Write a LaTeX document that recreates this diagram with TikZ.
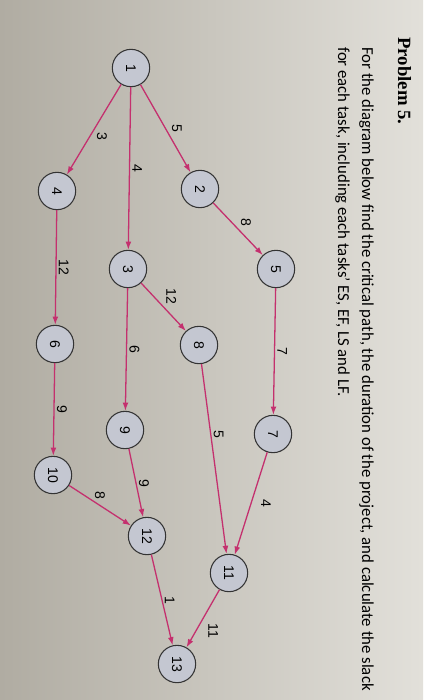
\documentclass[tikz,border=0pt]{standalone}
\usepackage{fontspec}
\setmainfont{Carlito}
\newfontfamily\numfont{Liberation Sans}
\newfontfamily\headfont{Liberation Serif}
\usepackage{tikz}
\usetikzlibrary{arrows.meta}
\usepackage{xcolor}

\definecolor{paperdark}{RGB}{176,172,162}
\definecolor{paperlight}{RGB}{226,224,218}
\definecolor{eventfill}{RGB}{196,199,209}
\definecolor{taskpink}{RGB}{196,48,110}

\tikzset{
  event/.style={circle, draw=black!80, line width=0.9pt, fill=eventfill,
    minimum size=1.12cm, inner sep=0pt, font=\numfont\fontsize{12}{12}\selectfont},
  task/.style={draw=taskpink, line width=1.1pt, -{Latex[length=7pt,width=5pt]}},
  dur/.style={font=\numfont\fontsize{12}{12}\selectfont, inner sep=2pt},
}

\begin{document}
\begin{tikzpicture}
  % photographed sheet, darker towards the left
  \shade[left color=paperdark, right color=paperlight] (0,0) rectangle (12.69,-21);

  % the page is turned a quarter clockwise
  \begin{scope}[x=0.3cm, y=0.3cm, rotate=-90, transform shape]
    % Problem text
    \node[anchor=base west, inner sep=0pt, font=\headfont\bfseries\fontsize{16}{18}\selectfont]
      (title) at (3.7,39.8) {Problem 5.};
    \node[anchor=base west, inner sep=0pt, font=\fontsize{14.3}{17}\selectfont]
      (line1) at (4.7,36.2) {For the diagram below find the critical path, the duration of the project, and calculate the slack};
    \node[anchor=base west, inner sep=0pt, font=\fontsize{14.3}{17}\selectfont]
      (line2) at (4.7,33.8) {for each task, including each tasks' ES, EF, LS and LF.};

    % Events
    \node[event] (n1) at (6.8,13.1) {1};
    \node[event] (n2) at (18.9,20.0) {2};
    \node[event] (n3) at (26.9,12.8) {3};
    \node[event] (n4) at (19.1,5.7) {4};
    \node[event] (n5) at (26.9,27.6) {5};
    \node[event] (n6) at (34.4,5.5) {6};
    \node[event] (n7) at (43.4,27.3) {7};
    \node[event] (n8) at (34.5,19.9) {8};
    \node[event] (n9) at (43.0,12.5) {9};
    \node[event] (n10) at (47.5,5.3) {10};
    \node[event] (n11) at (57.3,22.9) {11};
    \node[event] (n12) at (53.6,14.7) {12};
    \node[event] (n13) at (66.4,17.7) {13};

    % Tasks
    \draw[task] (n1) -- node[dur, above right] {3} (n4);
    \draw[task] (n1) -- node[dur, above] {4} (n3);
    \draw[task] (n1) -- node[dur, above=3pt] {5} (n2);
    \draw[task] (n2) -- node[dur, above left] {8} (n5);
    \draw[task] (n3) -- node[dur, above left] {12} (n8);
    \draw[task] (n3) -- node[dur, above] {6} (n9);
    \draw[task] (n4) -- node[dur, above] {12} (n6);
    \draw[task] (n5) -- node[dur, above] {7} (n7);
    \draw[task] (n8) -- node[dur, pos=0.37, above] {5} (n11);
    \draw[task] (n7) -- node[dur, above=6pt] {4} (n11);
    \draw[task] (n6) -- node[dur, above] {9} (n10);
    \draw[task] (n9) -- node[dur, above] {9} (n12);
    \draw[task] (n10) -- node[dur, left=3pt] {8} (n12);
    \draw[task] (n12) -- node[dur, above] {1} (n13);
    \draw[task] (n11) -- node[dur, above right=2pt] {11} (n13);
  \end{scope}
\end{tikzpicture}
\end{document}
